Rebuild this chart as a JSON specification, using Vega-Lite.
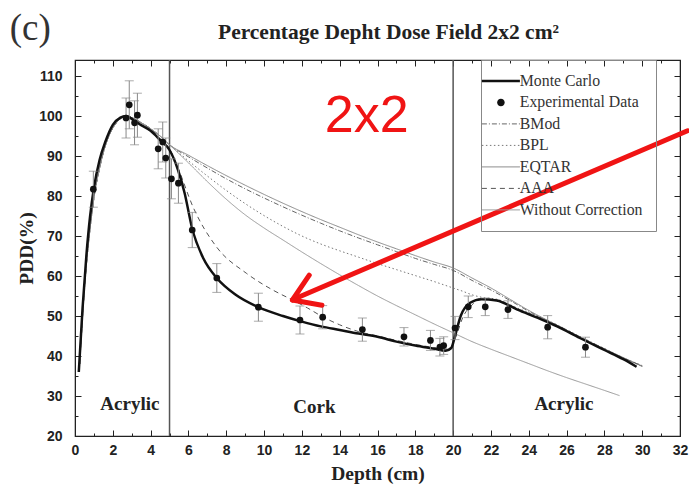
{
  "$schema": "https://vega.github.io/schema/vega-lite/v6.json",
  "width": 605,
  "height": 376,
  "autosize": {"type": "none"},
  "padding": {"left": 75, "top": 60, "right": 9, "bottom": 50},
  "background": "white",
  "title": {"text": "Percentage Depht Dose Field 2x2 cm²", "font": "Liberation Serif", "fontSize": 21.5, "fontWeight": "bold", "color": "#222", "anchor": "middle", "frame": "group", "dx": 11, "offset": -33},
  "config": {
    "view": {"stroke": "#222", "strokeWidth": 1.2},
    "axis": {"grid": false, "domainColor": "#222", "tickColor": "#222", "labelFont": "Liberation Sans", "labelFontWeight": "bold", "labelFontSize": 14, "labelColor": "#222", "titleFont": "Liberation Serif", "titleFontWeight": "bold", "titleFontSize": 19.5, "titleColor": "#222", "labelOverlap": false, "labelFlush": false, "labelBound": false},
    "legend": {"orient": "none", "legendX": 406, "legendY": 0, "padding": 13, "strokeColor": "#888", "labelFont": "Liberation Serif", "labelFontSize": 15.8, "labelColor": "#333", "rowPadding": 4.5, "symbolOffset": -1, "labelOffset": 11, "symbolType": "M-3.8,0H3.8", "symbolSize": 100, "symbolStrokeWidth": 1, "labelLimit": 250}
  },
  "datasets": {
    "curves": [
      {"series": "Monte Carlo", "depth": 0.2, "pdd": 36},
      {"series": "Monte Carlo", "depth": 0.4, "pdd": 52},
      {"series": "Monte Carlo", "depth": 0.6, "pdd": 65},
      {"series": "Monte Carlo", "depth": 0.8, "pdd": 75},
      {"series": "Monte Carlo", "depth": 1.0, "pdd": 82},
      {"series": "Monte Carlo", "depth": 1.3, "pdd": 89},
      {"series": "Monte Carlo", "depth": 1.6, "pdd": 93.5},
      {"series": "Monte Carlo", "depth": 2.0, "pdd": 97.8},
      {"series": "Monte Carlo", "depth": 2.4, "pdd": 99.6},
      {"series": "Monte Carlo", "depth": 2.7, "pdd": 100},
      {"series": "Monte Carlo", "depth": 3.0, "pdd": 99.3},
      {"series": "Monte Carlo", "depth": 3.4, "pdd": 98},
      {"series": "Monte Carlo", "depth": 4.0, "pdd": 96.3},
      {"series": "Monte Carlo", "depth": 4.5, "pdd": 94},
      {"series": "Monte Carlo", "depth": 5.0, "pdd": 91.5},
      {"series": "Monte Carlo", "depth": 5.45, "pdd": 86.5},
      {"series": "Monte Carlo", "depth": 5.8, "pdd": 80.7},
      {"series": "Monte Carlo", "depth": 6.2, "pdd": 71.8},
      {"series": "Monte Carlo", "depth": 6.8, "pdd": 64.3},
      {"series": "Monte Carlo", "depth": 7.5, "pdd": 59.5},
      {"series": "Monte Carlo", "depth": 8.5, "pdd": 55.3},
      {"series": "Monte Carlo", "depth": 9.7, "pdd": 52.2},
      {"series": "Monte Carlo", "depth": 11, "pdd": 50},
      {"series": "Monte Carlo", "depth": 12, "pdd": 48.6},
      {"series": "Monte Carlo", "depth": 13, "pdd": 47.4},
      {"series": "Monte Carlo", "depth": 14, "pdd": 46.5},
      {"series": "Monte Carlo", "depth": 15, "pdd": 45.6},
      {"series": "Monte Carlo", "depth": 16, "pdd": 44.8},
      {"series": "Monte Carlo", "depth": 17, "pdd": 43.6},
      {"series": "Monte Carlo", "depth": 18, "pdd": 42.6},
      {"series": "Monte Carlo", "depth": 19, "pdd": 41.8},
      {"series": "Monte Carlo", "depth": 19.6, "pdd": 41.3},
      {"series": "Monte Carlo", "depth": 19.9, "pdd": 42},
      {"series": "Monte Carlo", "depth": 20.1, "pdd": 45},
      {"series": "Monte Carlo", "depth": 20.4, "pdd": 50},
      {"series": "Monte Carlo", "depth": 20.9, "pdd": 53.3},
      {"series": "Monte Carlo", "depth": 21.5, "pdd": 54.2},
      {"series": "Monte Carlo", "depth": 22.3, "pdd": 53.9},
      {"series": "Monte Carlo", "depth": 23.4, "pdd": 51.6},
      {"series": "Monte Carlo", "depth": 24.6, "pdd": 49.3},
      {"series": "Monte Carlo", "depth": 25.5, "pdd": 47.4},
      {"series": "Monte Carlo", "depth": 26.7, "pdd": 44.5},
      {"series": "Monte Carlo", "depth": 28, "pdd": 41.5},
      {"series": "Monte Carlo", "depth": 29, "pdd": 39.2},
      {"series": "Monte Carlo", "depth": 29.7, "pdd": 37.3},

      {"series": "BMod", "depth": 0.25, "pdd": 38},
      {"series": "BMod", "depth": 0.5, "pdd": 57},
      {"series": "BMod", "depth": 0.8, "pdd": 72},
      {"series": "BMod", "depth": 1.0, "pdd": 79.5},
      {"series": "BMod", "depth": 1.3, "pdd": 87},
      {"series": "BMod", "depth": 1.6, "pdd": 92.5},
      {"series": "BMod", "depth": 2.0, "pdd": 97},
      {"series": "BMod", "depth": 2.4, "pdd": 99.3},
      {"series": "BMod", "depth": 2.7, "pdd": 100},
      {"series": "BMod", "depth": 3.0, "pdd": 99.6},
      {"series": "BMod", "depth": 3.5, "pdd": 98.3},
      {"series": "BMod", "depth": 4.0, "pdd": 96.8},
      {"series": "BMod", "depth": 4.5, "pdd": 95},
      {"series": "BMod", "depth": 5.0, "pdd": 92.8},
      {"series": "BMod", "depth": 6, "pdd": 89.8},
      {"series": "BMod", "depth": 7, "pdd": 87},
      {"series": "BMod", "depth": 8, "pdd": 84.3},
      {"series": "BMod", "depth": 9, "pdd": 81.8},
      {"series": "BMod", "depth": 10, "pdd": 79.5},
      {"series": "BMod", "depth": 11, "pdd": 77.3},
      {"series": "BMod", "depth": 12, "pdd": 75.2},
      {"series": "BMod", "depth": 13, "pdd": 73.2},
      {"series": "BMod", "depth": 14, "pdd": 71.3},
      {"series": "BMod", "depth": 15, "pdd": 69.5},
      {"series": "BMod", "depth": 16, "pdd": 67.8},
      {"series": "BMod", "depth": 17, "pdd": 66.1},
      {"series": "BMod", "depth": 18, "pdd": 64.4},
      {"series": "BMod", "depth": 19, "pdd": 62.9},
      {"series": "BMod", "depth": 20, "pdd": 61.4},
      {"series": "BMod", "depth": 21, "pdd": 58.9},
      {"series": "BMod", "depth": 22, "pdd": 56.5},
      {"series": "BMod", "depth": 23, "pdd": 53.9},
      {"series": "BMod", "depth": 24, "pdd": 51.2},
      {"series": "BMod", "depth": 25, "pdd": 48.8},
      {"series": "BMod", "depth": 26, "pdd": 46.4},
      {"series": "BMod", "depth": 27, "pdd": 44},
      {"series": "BMod", "depth": 28, "pdd": 41.7},
      {"series": "BMod", "depth": 29, "pdd": 39.5},
      {"series": "BMod", "depth": 30, "pdd": 37.4},

      {"series": "EQTAR", "depth": 0.25, "pdd": 38},
      {"series": "EQTAR", "depth": 0.5, "pdd": 57},
      {"series": "EQTAR", "depth": 0.8, "pdd": 72},
      {"series": "EQTAR", "depth": 1.0, "pdd": 79.5},
      {"series": "EQTAR", "depth": 1.3, "pdd": 87},
      {"series": "EQTAR", "depth": 1.6, "pdd": 92.5},
      {"series": "EQTAR", "depth": 2.0, "pdd": 97},
      {"series": "EQTAR", "depth": 2.4, "pdd": 99.3},
      {"series": "EQTAR", "depth": 2.7, "pdd": 100},
      {"series": "EQTAR", "depth": 3.0, "pdd": 99.6},
      {"series": "EQTAR", "depth": 3.5, "pdd": 98.3},
      {"series": "EQTAR", "depth": 4.0, "pdd": 96.8},
      {"series": "EQTAR", "depth": 4.5, "pdd": 95},
      {"series": "EQTAR", "depth": 5.0, "pdd": 92.8},
      {"series": "EQTAR", "depth": 6, "pdd": 90.2},
      {"series": "EQTAR", "depth": 7, "pdd": 87.6},
      {"series": "EQTAR", "depth": 8, "pdd": 85.1},
      {"series": "EQTAR", "depth": 9, "pdd": 82.7},
      {"series": "EQTAR", "depth": 10, "pdd": 80.4},
      {"series": "EQTAR", "depth": 11, "pdd": 78.2},
      {"series": "EQTAR", "depth": 12, "pdd": 76.1},
      {"series": "EQTAR", "depth": 13, "pdd": 74.1},
      {"series": "EQTAR", "depth": 14, "pdd": 72.2},
      {"series": "EQTAR", "depth": 15, "pdd": 70.3},
      {"series": "EQTAR", "depth": 16, "pdd": 68.5},
      {"series": "EQTAR", "depth": 17, "pdd": 66.8},
      {"series": "EQTAR", "depth": 18, "pdd": 65.1},
      {"series": "EQTAR", "depth": 19, "pdd": 63.5},
      {"series": "EQTAR", "depth": 20, "pdd": 62},
      {"series": "EQTAR", "depth": 21, "pdd": 59.5},
      {"series": "EQTAR", "depth": 22, "pdd": 57},
      {"series": "EQTAR", "depth": 23, "pdd": 54.2},
      {"series": "EQTAR", "depth": 24, "pdd": 51.4},
      {"series": "EQTAR", "depth": 25, "pdd": 48.9},
      {"series": "EQTAR", "depth": 26, "pdd": 46.5},
      {"series": "EQTAR", "depth": 27, "pdd": 44.1},
      {"series": "EQTAR", "depth": 28, "pdd": 41.8},
      {"series": "EQTAR", "depth": 29, "pdd": 39.6},
      {"series": "EQTAR", "depth": 30, "pdd": 37.5},

      {"series": "BPL", "depth": 0.25, "pdd": 38},
      {"series": "BPL", "depth": 0.5, "pdd": 57},
      {"series": "BPL", "depth": 0.8, "pdd": 72},
      {"series": "BPL", "depth": 1.0, "pdd": 79.5},
      {"series": "BPL", "depth": 1.3, "pdd": 87},
      {"series": "BPL", "depth": 1.6, "pdd": 92.5},
      {"series": "BPL", "depth": 2.0, "pdd": 97},
      {"series": "BPL", "depth": 2.4, "pdd": 99.3},
      {"series": "BPL", "depth": 2.7, "pdd": 100},
      {"series": "BPL", "depth": 3.0, "pdd": 99.6},
      {"series": "BPL", "depth": 3.5, "pdd": 98.3},
      {"series": "BPL", "depth": 4.0, "pdd": 96.8},
      {"series": "BPL", "depth": 4.5, "pdd": 95},
      {"series": "BPL", "depth": 5.0, "pdd": 92.8},
      {"series": "BPL", "depth": 6, "pdd": 88.8},
      {"series": "BPL", "depth": 7, "pdd": 85},
      {"series": "BPL", "depth": 8, "pdd": 81.4},
      {"series": "BPL", "depth": 9, "pdd": 78.1},
      {"series": "BPL", "depth": 10, "pdd": 75.1},
      {"series": "BPL", "depth": 11, "pdd": 72.4},
      {"series": "BPL", "depth": 12, "pdd": 70},
      {"series": "BPL", "depth": 13, "pdd": 68},
      {"series": "BPL", "depth": 14, "pdd": 66.3},
      {"series": "BPL", "depth": 15, "pdd": 64.7},
      {"series": "BPL", "depth": 16, "pdd": 63.1},
      {"series": "BPL", "depth": 17, "pdd": 61.6},
      {"series": "BPL", "depth": 18, "pdd": 60.1},
      {"series": "BPL", "depth": 19, "pdd": 58.6},
      {"series": "BPL", "depth": 20, "pdd": 57},
      {"series": "BPL", "depth": 20.5, "pdd": 56.2},
      {"series": "BPL", "depth": 21, "pdd": 55.3},
      {"series": "BPL", "depth": 21.6, "pdd": 54.6},
      {"series": "BPL", "depth": 22.3, "pdd": 54.2},
      {"series": "BPL", "depth": 23.4, "pdd": 52},
      {"series": "BPL", "depth": 24.6, "pdd": 49.7},
      {"series": "BPL", "depth": 25.5, "pdd": 47.8},
      {"series": "BPL", "depth": 26.7, "pdd": 44.9},
      {"series": "BPL", "depth": 28, "pdd": 41.9},
      {"series": "BPL", "depth": 29, "pdd": 39.6},
      {"series": "BPL", "depth": 30, "pdd": 37.6},

      {"series": "AAA", "depth": 0.25, "pdd": 38},
      {"series": "AAA", "depth": 0.5, "pdd": 57},
      {"series": "AAA", "depth": 0.8, "pdd": 72},
      {"series": "AAA", "depth": 1.0, "pdd": 79.5},
      {"series": "AAA", "depth": 1.3, "pdd": 87},
      {"series": "AAA", "depth": 1.6, "pdd": 92.5},
      {"series": "AAA", "depth": 2.0, "pdd": 97},
      {"series": "AAA", "depth": 2.4, "pdd": 99.3},
      {"series": "AAA", "depth": 2.7, "pdd": 100},
      {"series": "AAA", "depth": 3.0, "pdd": 99.6},
      {"series": "AAA", "depth": 3.5, "pdd": 98.3},
      {"series": "AAA", "depth": 4.0, "pdd": 96.8},
      {"series": "AAA", "depth": 4.5, "pdd": 94.3},
      {"series": "AAA", "depth": 5.0, "pdd": 91.8},
      {"series": "AAA", "depth": 5.45, "pdd": 87},
      {"series": "AAA", "depth": 6.24, "pdd": 77.3},
      {"series": "AAA", "depth": 7.48, "pdd": 67.3},
      {"series": "AAA", "depth": 9.06, "pdd": 60.7},
      {"series": "AAA", "depth": 10.46, "pdd": 56.5},
      {"series": "AAA", "depth": 11.5, "pdd": 54},
      {"series": "AAA", "depth": 12.3, "pdd": 52},
      {"series": "AAA", "depth": 13.1, "pdd": 49.8},
      {"series": "AAA", "depth": 14, "pdd": 47.8},
      {"series": "AAA", "depth": 15, "pdd": 46.1},
      {"series": "AAA", "depth": 16, "pdd": 45},
      {"series": "AAA", "depth": 17, "pdd": 43.9},
      {"series": "AAA", "depth": 18, "pdd": 42.9},
      {"series": "AAA", "depth": 19, "pdd": 42.1},
      {"series": "AAA", "depth": 19.6, "pdd": 41.7},
      {"series": "AAA", "depth": 19.9, "pdd": 42.3},
      {"series": "AAA", "depth": 20.2, "pdd": 45.5},
      {"series": "AAA", "depth": 20.5, "pdd": 49.5},
      {"series": "AAA", "depth": 21, "pdd": 52.8},
      {"series": "AAA", "depth": 21.6, "pdd": 54.3},
      {"series": "AAA", "depth": 22.3, "pdd": 54},
      {"series": "AAA", "depth": 23.4, "pdd": 51.8},
      {"series": "AAA", "depth": 24.6, "pdd": 49.6},
      {"series": "AAA", "depth": 25.5, "pdd": 47.7},
      {"series": "AAA", "depth": 26.7, "pdd": 44.8},
      {"series": "AAA", "depth": 28, "pdd": 41.8},
      {"series": "AAA", "depth": 29, "pdd": 39.5},
      {"series": "AAA", "depth": 30, "pdd": 37.5},

      {"series": "Without Correction", "depth": 0.25, "pdd": 38},
      {"series": "Without Correction", "depth": 0.5, "pdd": 57},
      {"series": "Without Correction", "depth": 0.8, "pdd": 72},
      {"series": "Without Correction", "depth": 1.0, "pdd": 79.5},
      {"series": "Without Correction", "depth": 1.3, "pdd": 87},
      {"series": "Without Correction", "depth": 1.6, "pdd": 92.5},
      {"series": "Without Correction", "depth": 2.0, "pdd": 97},
      {"series": "Without Correction", "depth": 2.4, "pdd": 99.3},
      {"series": "Without Correction", "depth": 2.7, "pdd": 100},
      {"series": "Without Correction", "depth": 3.0, "pdd": 99.6},
      {"series": "Without Correction", "depth": 3.5, "pdd": 98.3},
      {"series": "Without Correction", "depth": 4.0, "pdd": 96.8},
      {"series": "Without Correction", "depth": 4.5, "pdd": 95},
      {"series": "Without Correction", "depth": 5.0, "pdd": 92.8},
      {"series": "Without Correction", "depth": 6, "pdd": 88.3},
      {"series": "Without Correction", "depth": 7, "pdd": 83.6},
      {"series": "Without Correction", "depth": 8, "pdd": 79.2},
      {"series": "Without Correction", "depth": 9, "pdd": 75.3},
      {"series": "Without Correction", "depth": 10, "pdd": 72},
      {"series": "Without Correction", "depth": 11, "pdd": 69},
      {"series": "Without Correction", "depth": 12, "pdd": 66},
      {"series": "Without Correction", "depth": 13, "pdd": 63.1},
      {"series": "Without Correction", "depth": 14, "pdd": 60.3},
      {"series": "Without Correction", "depth": 15, "pdd": 57.6},
      {"series": "Without Correction", "depth": 16, "pdd": 55},
      {"series": "Without Correction", "depth": 17, "pdd": 52.6},
      {"series": "Without Correction", "depth": 18, "pdd": 50.3},
      {"series": "Without Correction", "depth": 19, "pdd": 48},
      {"series": "Without Correction", "depth": 20, "pdd": 45.8},
      {"series": "Without Correction", "depth": 21, "pdd": 43.6},
      {"series": "Without Correction", "depth": 22, "pdd": 41.7},
      {"series": "Without Correction", "depth": 23, "pdd": 39.9},
      {"series": "Without Correction", "depth": 24, "pdd": 38.1},
      {"series": "Without Correction", "depth": 25, "pdd": 36.3},
      {"series": "Without Correction", "depth": 26, "pdd": 34.6},
      {"series": "Without Correction", "depth": 27, "pdd": 33},
      {"series": "Without Correction", "depth": 28, "pdd": 31.4},
      {"series": "Without Correction", "depth": 28.8, "pdd": 30.1}
    ],
    "exp": [
      {"series": "Experimental Data", "depth": 0.97, "pdd": 81.7, "err": 4.5},
      {"series": "Experimental Data", "depth": 2.7, "pdd": 99.5, "err": 5},
      {"series": "Experimental Data", "depth": 2.87, "pdd": 102.8, "err": 6},
      {"series": "Experimental Data", "depth": 3.15, "pdd": 98.3, "err": 5.5},
      {"series": "Experimental Data", "depth": 3.3, "pdd": 100.2, "err": 5.5},
      {"series": "Experimental Data", "depth": 4.4, "pdd": 91.8, "err": 5},
      {"series": "Experimental Data", "depth": 4.64, "pdd": 93.5, "err": 5},
      {"series": "Experimental Data", "depth": 4.8, "pdd": 89.5, "err": 5},
      {"series": "Experimental Data", "depth": 5.1, "pdd": 84.3, "err": 5},
      {"series": "Experimental Data", "depth": 5.47, "pdd": 83.2, "err": 5},
      {"series": "Experimental Data", "depth": 6.2, "pdd": 71.5, "err": 4.4},
      {"series": "Experimental Data", "depth": 7.5, "pdd": 59.5, "err": 3.6},
      {"series": "Experimental Data", "depth": 9.7, "pdd": 52.2, "err": 3.5},
      {"series": "Experimental Data", "depth": 11.9, "pdd": 49, "err": 3.5},
      {"series": "Experimental Data", "depth": 13.1, "pdd": 49.7, "err": 2.9},
      {"series": "Experimental Data", "depth": 15.2, "pdd": 46.6, "err": 2.9},
      {"series": "Experimental Data", "depth": 17.4, "pdd": 44.8, "err": 2.3},
      {"series": "Experimental Data", "depth": 18.8, "pdd": 43.9, "err": 2.5},
      {"series": "Experimental Data", "depth": 19.3, "pdd": 42.2, "err": 2.2},
      {"series": "Experimental Data", "depth": 19.5, "pdd": 42.6, "err": 2.2},
      {"series": "Experimental Data", "depth": 20.1, "pdd": 47, "err": 2.9},
      {"series": "Experimental Data", "depth": 20.8, "pdd": 52.3, "err": 2.7},
      {"series": "Experimental Data", "depth": 21.7, "pdd": 52.3, "err": 2.2},
      {"series": "Experimental Data", "depth": 22.9, "pdd": 51.6, "err": 2.2},
      {"series": "Experimental Data", "depth": 25.0, "pdd": 47.2, "err": 2.9},
      {"series": "Experimental Data", "depth": 27.0, "pdd": 42.2, "err": 2.5}
    ],
    "dividers": [{"depth": 5}, {"depth": 20}],
    "regions": [
      {"label": "Acrylic", "depth": 2.9, "pdd": 26.5},
      {"label": "Cork", "depth": 12.66, "pdd": 25.8},
      {"label": "Acrylic", "depth": 25.86, "pdd": 26.5}
    ],
    "panel": [{"label": "(c)", "depth": -2.37, "pdd": 119}],
    "field": [{"label": "2x2", "depth": 15.43, "pdd": 96.1}],
    "arrow": [
      {"depth": 32.4, "pdd": 96.3, "depth2": 11.72, "pdd2": 54.5},
      {"depth": 11.5, "pdd": 54, "depth2": 12.39, "pdd2": 60.2},
      {"depth": 11.5, "pdd": 54, "depth2": 13.06, "pdd2": 52.7}
    ]
  },
  "layer": [
    {
      "data": {"name": "dividers"},
      "mark": {"type": "rule", "color": "#555", "strokeWidth": 1.5},
      "encoding": {
        "x": {"field": "depth", "type": "quantitative", "scale": {"domain": [0, 32], "nice": false, "zero": false}, "axis": null}
      }
    },
    {
      "data": {"name": "curves"},
      "transform": [{"filter": "datum.series !== 'Monte Carlo'"}],
      "mark": {"type": "line", "strokeWidth": 1, "interpolate": "monotone"},
      "encoding": {
        "x": {"field": "depth", "type": "quantitative", "scale": {"domain": [0, 32], "nice": false, "zero": false}, "axis": null},
        "y": {"field": "pdd", "type": "quantitative", "scale": {"domain": [20, 114], "nice": false, "zero": false}, "axis": null},
        "color": {"field": "series", "type": "nominal",
          "scale": {"domain": ["Monte Carlo", "Experimental Data", "BMod", "BPL", "EQTAR", "AAA", "Without Correction"], "range": ["#111", "#111", "#666", "#777", "#888", "#555", "#999"]},
          "legend": {"title": null, "encode": {"symbols": {"update": {
            "shape": {"signal": "datum.value === 'Experimental Data' ? 'M0.75,0A0.75,0.75,0,1,1,-0.75,0A0.75,0.75,0,1,1,0.75,0Z' : 'M-3.8,0H3.8'"},
            "fill": {"signal": "datum.value === 'Experimental Data' ? '#111' : 'transparent'"},
            "strokeWidth": {"signal": "datum.value === 'Monte Carlo' ? 2.5 : (datum.value === 'Experimental Data' ? 0 : 1)"}
          }}}}},
        "strokeDash": {"field": "series", "type": "nominal",
          "scale": {"domain": ["Monte Carlo", "Experimental Data", "BMod", "BPL", "EQTAR", "AAA", "Without Correction"], "range": [[1, 0], [1, 0], [5, 2, 1, 2], [1.5, 2.5], [1, 0], [5, 4], [1, 0]]},
          "legend": {"title": null}}
      }
    },
    {
      "data": {"name": "curves"},
      "transform": [{"filter": "datum.series === 'Monte Carlo'"}],
      "mark": {"type": "line", "strokeWidth": 2.5, "interpolate": "monotone"},
      "encoding": {
        "x": {"field": "depth", "type": "quantitative", "scale": {"domain": [0, 32], "nice": false, "zero": false},
          "axis": {"orient": "bottom", "values": [0,1,2,3,4,5,6,7,8,9,10,11,12,13,14,15,16,17,18,19,20,21,22,23,24,25,26,27,28,29,30,31,32],
            "labelExpr": "datum.value % 2 === 0 ? datum.label : ''",
            "tickSize": {"condition": {"test": "datum.value % 2 === 0", "value": -6}, "value": -3},
            "labelPadding": 13, "title": "Depth (cm)", "titlePadding": 4}},
        "y": {"field": "pdd", "type": "quantitative", "scale": {"domain": [20, 114], "nice": false, "zero": false},
          "axis": {"orient": "left", "values": [20,25,30,35,40,45,50,55,60,65,70,75,80,85,90,95,100,105,110],
            "labelExpr": "datum.value % 10 === 0 ? datum.label : ''",
            "tickSize": {"condition": {"test": "datum.value % 10 === 0", "value": -6}, "value": -3},
            "labelPadding": 19, "title": "PDD(%)", "titlePadding": 2}},
        "color": {"field": "series", "type": "nominal",
          "scale": {"domain": ["Monte Carlo", "Experimental Data", "BMod", "BPL", "EQTAR", "AAA", "Without Correction"], "range": ["#111", "#111", "#666", "#777", "#888", "#555", "#999"]},
          "legend": {"title": null, "encode": {"symbols": {"update": {
            "shape": {"signal": "datum.value === 'Experimental Data' ? 'M0.75,0A0.75,0.75,0,1,1,-0.75,0A0.75,0.75,0,1,1,0.75,0Z' : 'M-3.8,0H3.8'"},
            "fill": {"signal": "datum.value === 'Experimental Data' ? '#111' : 'transparent'"},
            "strokeWidth": {"signal": "datum.value === 'Monte Carlo' ? 2.5 : (datum.value === 'Experimental Data' ? 0 : 1)"}
          }}}}}
      }
    },
    {
      "data": {"name": "exp"},
      "mark": {"type": "errorbar", "ticks": true, "size": 9, "thickness": 1, "color": "#888"},
      "encoding": {
        "x": {"field": "depth", "type": "quantitative", "scale": {"domain": [0, 32], "nice": false, "zero": false}, "axis": null},
        "y": {"field": "pdd", "type": "quantitative", "scale": {"domain": [20, 114], "nice": false, "zero": false}, "axis": null},
        "yError": {"field": "err"}
      }
    },
    {
      "data": {"name": "exp"},
      "mark": {"type": "point", "filled": true, "size": 45, "opacity": 1, "shape": "circle"},
      "encoding": {
        "x": {"field": "depth", "type": "quantitative", "scale": {"domain": [0, 32], "nice": false, "zero": false},
          "axis": {"orient": "top", "values": [0,1,2,3,4,5,6,7,8,9,10,11,12,13,14,15,16,17,18,19,20,21,22,23,24,25,26,27,28,29,30,31,32], "labels": false, "title": null,
            "tickSize": {"condition": {"test": "datum.value % 2 === 0", "value": -6}, "value": -3}}},
        "y": {"field": "pdd", "type": "quantitative", "scale": {"domain": [20, 114], "nice": false, "zero": false},
          "axis": {"orient": "right", "values": [20,25,30,35,40,45,50,55,60,65,70,75,80,85,90,95,100,105,110], "labels": false, "title": null,
            "tickSize": {"condition": {"test": "datum.value % 10 === 0", "value": -6}, "value": -3}}},
        "color": {"field": "series", "type": "nominal",
          "scale": {"domain": ["Monte Carlo", "Experimental Data", "BMod", "BPL", "EQTAR", "AAA", "Without Correction"], "range": ["#111", "#111", "#666", "#777", "#888", "#555", "#999"]},
          "legend": {"title": null, "encode": {"symbols": {"update": {
            "shape": {"signal": "datum.value === 'Experimental Data' ? 'M0.75,0A0.75,0.75,0,1,1,-0.75,0A0.75,0.75,0,1,1,0.75,0Z' : 'M-3.8,0H3.8'"},
            "fill": {"signal": "datum.value === 'Experimental Data' ? '#111' : 'transparent'"},
            "strokeWidth": {"signal": "datum.value === 'Monte Carlo' ? 2.5 : (datum.value === 'Experimental Data' ? 0 : 1)"}
          }}}}}
      }
    },
    {
      "data": {"name": "regions"},
      "mark": {"type": "text", "font": "Liberation Serif", "fontWeight": "bold", "fontSize": 19, "color": "#222", "align": "center", "baseline": "alphabetic"},
      "encoding": {
        "x": {"field": "depth", "type": "quantitative", "scale": {"domain": [0, 32], "nice": false, "zero": false}, "axis": null},
        "y": {"field": "pdd", "type": "quantitative", "scale": {"domain": [20, 114], "nice": false, "zero": false}, "axis": null},
        "text": {"field": "label"}
      }
    },
    {
      "data": {"name": "panel"},
      "mark": {"type": "text", "font": "Liberation Serif", "fontSize": 37, "color": "#333", "align": "center", "baseline": "alphabetic"},
      "encoding": {
        "x": {"field": "depth", "type": "quantitative", "scale": {"domain": [0, 32], "nice": false, "zero": false}, "axis": null},
        "y": {"field": "pdd", "type": "quantitative", "scale": {"domain": [20, 114], "nice": false, "zero": false}, "axis": null},
        "text": {"field": "label"}
      }
    },
    {
      "data": {"name": "field"},
      "mark": {"type": "text", "font": "Liberation Sans", "fontSize": 52, "color": "#f01414", "align": "center", "baseline": "alphabetic"},
      "encoding": {
        "x": {"field": "depth", "type": "quantitative", "scale": {"domain": [0, 32], "nice": false, "zero": false}, "axis": null},
        "y": {"field": "pdd", "type": "quantitative", "scale": {"domain": [20, 114], "nice": false, "zero": false}, "axis": null},
        "text": {"field": "label"}
      }
    },
    {
      "data": {"name": "arrow"},
      "mark": {"type": "rule", "color": "#f01414", "strokeWidth": 5, "strokeCap": "round"},
      "encoding": {
        "x": {"field": "depth", "type": "quantitative", "scale": {"domain": [0, 32], "nice": false, "zero": false}, "axis": null},
        "y": {"field": "pdd", "type": "quantitative", "scale": {"domain": [20, 114], "nice": false, "zero": false}, "axis": null},
        "x2": {"field": "depth2"},
        "y2": {"field": "pdd2"}
      }
    }
  ],
  "resolve": {"axis": {"x": "independent", "y": "independent"}}
}
